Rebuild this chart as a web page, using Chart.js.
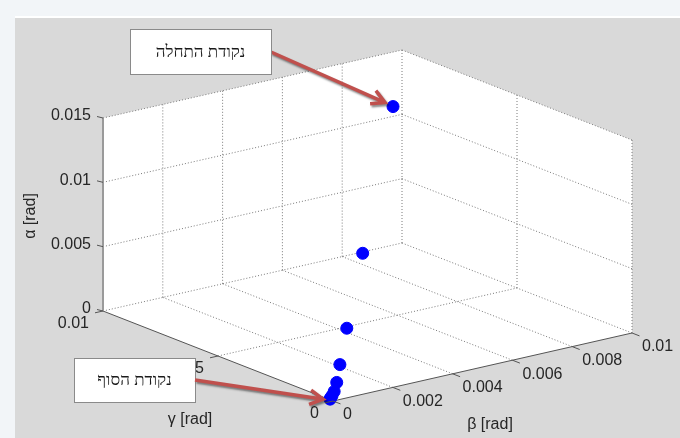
<!DOCTYPE html>
<html>
<head>
<meta charset="utf-8">
<script src="https://cdn.jsdelivr.net/npm/chart.js@4/dist/chart.umd.min.js"></script>
<style>
  html, body { margin: 0; padding: 0; background: #f2f5f8; }
  #wrap { width: 680px; height: 438px; position: relative; }
</style>
</head>
<body>
<div id="wrap"><canvas id="chart"></canvas></div>
<script>
// ---- data (rad) ----
const alphaRad = [0.0122, 0.0062, 0.0032, 0.0016, 0.00078, 0.00039, 0.0002, 0.0001, 0.00004];
const betaRad  = [0.0087, 0.0043, 0.0020, 0.0010, 0.00054, 0.00027, 0.00012, 0.00004, 0.00001];
const gammaRad = [0.0087, 0.0043, 0.0020, 0.0010, 0.00054, 0.00030, 0.00020, 0.00016, 0.00014];

// ---- axes ----
const alphaTicks  = [0, 0.005, 0.01, 0.015];
const alphaLabels = ['0', '0.005', '0.01', '0.015'];
const betaTicks   = [0, 0.002, 0.004, 0.006, 0.008, 0.01];
const betaLabels  = ['0', '0.002', '0.004', '0.006', '0.008', '0.01'];
const gammaTicks  = [0, 0.005, 0.01];
const gammaLabels = ['0', '0.005', '0.01'];

const startText = 'נקודת התחלה';
const endText   = 'נקודת הסוף';

// ---- view (projection of the 3D box onto the flat x/y scales) ----
const B_MAX = 0.01, G_MAX = 0.01, A_MAX = 0.015;
const view = { ox: 333, oy: 401, bx: 299, by: -68, gx: -230, gy: -90, az: -193 };

function project(b, g, a) {
  const fb = b / B_MAX, fg = g / G_MAX, fa = a / A_MAX;
  return {
    x: view.ox + fb * view.bx + fg * view.gx,
    y: view.oy + fb * view.by + fg * view.gy + fa * view.az,
  };
}

// segments list -> one dataset with gaps
function segs(list) {
  const out = [];
  for (const [p, q] of list) {
    out.push(project(...p), project(...q), { x: null, y: null });
  }
  return out;
}

// grid lines on the two back walls and the floor
const gridSegs = [];
for (const b of betaTicks.slice(1)) {
  gridSegs.push([[b, G_MAX, 0], [b, G_MAX, A_MAX]]);   // back-left wall verticals
  gridSegs.push([[b, 0, 0], [b, G_MAX, 0]]);           // floor
}
for (const g of gammaTicks.slice(0, -1)) {
  gridSegs.push([[B_MAX, g, 0], [B_MAX, g, A_MAX]]);   // back-right wall verticals
}
for (const g of gammaTicks.slice(1)) {
  gridSegs.push([[0, g, 0], [B_MAX, g, 0]]);           // floor
}
for (const a of alphaTicks.slice(1)) {
  gridSegs.push([[0, G_MAX, a], [B_MAX, G_MAX, a]]);
  gridSegs.push([[B_MAX, G_MAX, a], [B_MAX, 0, a]]);
}

const axisSegs = [
  [[0, G_MAX, 0], [0, 0, 0]],       // gamma axis
  [[0, 0, 0], [B_MAX, 0, 0]],       // beta axis
];
const alphaAxisSeg = [[[0, G_MAX, 0], [0, G_MAX, A_MAX]]];

const points = alphaRad.map((a, i) => project(betaRad[i], gammaRad[i], a));

// ---- drawing helpers ----
function toPx(chart, p) {
  return { x: chart.scales.x.getPixelForValue(p.x), y: chart.scales.y.getPixelForValue(p.y) };
}

function arrow(ctx, x1, y1, x2, y2) {
  const ang = Math.atan2(y2 - y1, x2 - x1);
  const head = 15;
  ctx.beginPath();
  ctx.moveTo(x1, y1);
  ctx.lineTo(x2 - Math.cos(ang) * 3, y2 - Math.sin(ang) * 3);
  ctx.moveTo(x2 - head * Math.cos(ang - 0.5), y2 - head * Math.sin(ang - 0.5));
  ctx.lineTo(x2, y2);
  ctx.lineTo(x2 - head * Math.cos(ang + 0.5), y2 - head * Math.sin(ang + 0.5));
  ctx.stroke();
}

function callout(ctx, box, text) {
  ctx.fillStyle = '#ffffff';
  ctx.fillRect(box.x, box.y, box.w, box.h);
  ctx.strokeStyle = '#8a8a8a';
  ctx.lineWidth = 1;
  ctx.strokeRect(box.x + 0.5, box.y + 0.5, box.w, box.h);
  ctx.fillStyle = '#1a1a1a';
  ctx.font = '17px "Liberation Serif", serif';
  ctx.textAlign = 'center';
  ctx.textBaseline = 'middle';
  ctx.fillText(text, box.x + box.w / 2, box.y + box.h / 2 + 1);
}

const boxPlugin = {
  id: 'box3d',
  beforeDatasetsDraw(chart) {
    const ctx = chart.ctx;
    ctx.save();
    // figure background
    ctx.fillStyle = '#f2f5f8';
    ctx.fillRect(0, 0, 680, 438);
    ctx.fillStyle = '#ffffff';
    ctx.fillRect(15, 16, 665, 2);
    ctx.fillStyle = '#d9d9d9';
    ctx.fillRect(15, 18, 665, 420);

    // white faces
    const outline = [
      [0, G_MAX, 0], [0, G_MAX, A_MAX], [B_MAX, G_MAX, A_MAX],
      [B_MAX, 0, A_MAX], [B_MAX, 0, 0], [0, 0, 0],
    ].map(p => toPx(chart, project(...p)));
    ctx.fillStyle = '#ffffff';
    ctx.beginPath();
    outline.forEach((p, i) => (i ? ctx.lineTo(p.x, p.y) : ctx.moveTo(p.x, p.y)));
    ctx.closePath();
    ctx.fill();
    ctx.restore();
  },
  afterDatasetsDraw(chart) {
    const ctx = chart.ctx;
    ctx.save();
    ctx.strokeStyle = '#555';
    ctx.lineWidth = 1;
    ctx.fillStyle = '#262626';
    ctx.font = '16px "Liberation Sans", Arial, sans-serif';

    // alpha ticks + labels
    ctx.textAlign = 'right';
    ctx.textBaseline = 'middle';
    alphaTicks.forEach((a, i) => {
      const p = toPx(chart, project(0, G_MAX, a));
      ctx.beginPath();
      ctx.moveTo(p.x, p.y);
      ctx.lineTo(p.x - 6, p.y - 1.5);
      ctx.stroke();
      ctx.fillText(alphaLabels[i], p.x - 12, p.y - 2);
    });

    // gamma ticks + labels
    gammaTicks.forEach((g, i) => {
      const p = toPx(chart, project(0, g, 0));
      ctx.beginPath();
      ctx.moveTo(p.x, p.y);
      ctx.lineTo(p.x - 8, p.y + 1.8);
      ctx.stroke();
      ctx.fillText(gammaLabels[i], p.x - 14, p.y + 13);
    });

    // beta ticks + labels
    ctx.textAlign = 'left';
    betaTicks.forEach((b, i) => {
      const p = toPx(chart, project(b, 0, 0));
      ctx.beginPath();
      ctx.moveTo(p.x, p.y);
      ctx.lineTo(p.x + 7.5, p.y + 2.9);
      ctx.stroke();
      ctx.fillText(betaLabels[i], p.x + 10, p.y + 14);
    });

    // axis titles
    ctx.textAlign = 'center';
    ctx.fillText('γ [rad]', 190, 420);
    ctx.fillText('β [rad]', 490, 425);
    ctx.save();
    ctx.translate(31, 216);
    ctx.rotate(-Math.PI / 2);
    ctx.fillText('α [rad]', 0, 0);
    ctx.restore();

    // annotations
    const first = toPx(chart, points[0]);
    const last  = toPx(chart, points[points.length - 1]);
    const box1 = { x: 130, y: 29, w: 141, h: 45 };
    const box2 = { x: 74, y: 358, w: 121, h: 44 };
    callout(ctx, box2, endText);

    ctx.lineWidth = 3.5;
    ctx.lineCap = 'butt';
    ctx.lineJoin = 'miter';
    ctx.strokeStyle = '#c0504d';
    ctx.shadowColor = 'rgba(0,0,0,0.45)';
    ctx.shadowOffsetX = 1.5;
    ctx.shadowOffsetY = 2;
    ctx.shadowBlur = 2;
    arrow(ctx, box1.x + box1.w, 52, first.x - 8, first.y - 4);
    arrow(ctx, box2.x + box2.w, 380, last.x - 7, last.y);
    ctx.shadowColor = 'transparent';

    callout(ctx, box1, startText);
    ctx.restore();
  },
};

new Chart(document.getElementById('chart'), {
  type: 'scatter',
  data: {
    datasets: [
      {
        data: points,
        backgroundColor: '#0000ff',
        borderColor: '#0000ff',
        pointRadius: 6,
        pointHoverRadius: 6,
        order: 1,
      },
      {
        data: segs(gridSegs),
        showLine: true,
        spanGaps: false,
        borderColor: '#7a7a7a',
        borderWidth: 1,
        borderDash: [1, 2],
        pointRadius: 0,
        order: 4,
      },
      {
        data: segs(axisSegs),
        showLine: true,
        spanGaps: false,
        borderColor: '#555555',
        borderWidth: 1,
        pointRadius: 0,
        order: 3,
      },
      {
        data: segs(alphaAxisSeg),
        showLine: true,
        borderColor: '#9a9a9a',
        borderWidth: 2,
        pointRadius: 0,
        order: 2,
      },
    ],
  },
  plugins: [boxPlugin],
  options: {
    responsive: true,
    maintainAspectRatio: false,
    animation: false,
    events: [],
    layout: { padding: 0, autoPadding: false },
    plugins: { legend: { display: false }, tooltip: { enabled: false } },
    scales: {
      x: { type: 'linear', display: false, min: 0, max: 680 },
      y: { type: 'linear', display: false, min: 0, max: 438, reverse: true },
    },
  },
});
</script>
</body>
</html>
